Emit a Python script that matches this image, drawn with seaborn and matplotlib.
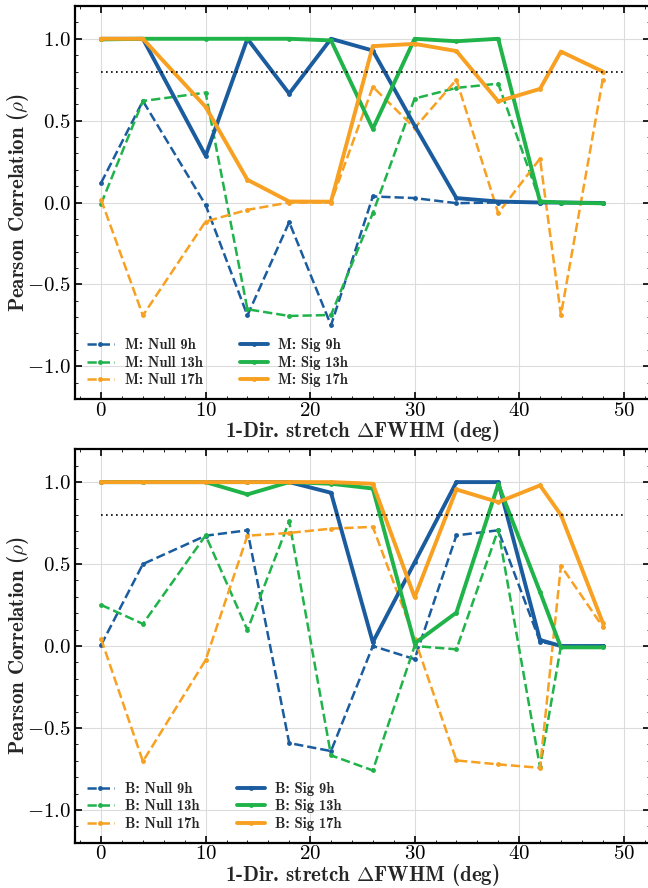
import numpy as np
import pandas as pd
import matplotlib
matplotlib.use("Agg")
import matplotlib.pyplot as plt
import seaborn as sns
from matplotlib.ticker import AutoMinorLocator

# ---------- data ----------
stretch = [0, 4, 10, 14, 18, 22, 26, 30, 34, 38, 42, 44, 48]

# top panel: M
m_null_9 = [0.12, 0.62, -0.015, -0.69, -0.12, -0.75, 0.037, 0.027, -0.004, 0.0, 0.0, 0.0, -0.003]
m_null_13 = [-0.008, 0.62, 0.671, -0.652, -0.693, -0.687, -0.065, 0.635, 0.70, 0.726, 0.01, 0.0, -0.003]
m_null_17 = [0.017, -0.69, -0.116, -0.045, 0.0, 0.0, 0.707, 0.455, 0.75, -0.065, 0.268, -0.687, 0.75]
m_sig_9 = [1.0, 1.0, 0.286, 1.0, 0.665, 1.0, 0.928, 0.47, 0.027, 0.006, 0.0, 0.0, -0.003]
m_sig_13 = [0.996, 1.0, 1.0, 1.0, 1.0, 0.99, 0.45, 1.0, 0.985, 1.0, 0.006, 0.0, -0.005]
m_sig_17 = [1.0, 1.0, 0.584, 0.139, 0.006, 0.005, 0.955, 0.969, 0.925, 0.618, 0.694, 0.922, 0.80]

# bottom panel: B
b_null_9 = [0.006, 0.50, 0.673, 0.706, -0.592, -0.641, 0.0, -0.08, 0.675, 0.706, 0.027, 0.0, 0.0]
b_null_13 = [0.251, 0.135, 0.675, 0.098, 0.761, -0.667, -0.759, 0.0, -0.02, 0.71, -0.739, 0.0, 0.0]
b_null_17 = [0.043, -0.704, -0.086, 0.673, 0.69, 0.716, 0.727, 0.045, -0.698, -0.722, -0.743, 0.49, 0.118]
b_sig_9 = [1.0, 1.0, 1.0, 1.0, 1.0, 0.935, 0.023, 0.51, 1.0, 1.0, 0.037, 0.0, 0.0]
b_sig_13 = [1.0, 1.0, 1.0, 0.925, 1.0, 0.99, 0.961, 0.016, 0.204, 0.986, 0.33, -0.008, -0.008]
b_sig_17 = [1.0, 1.0, 1.0, 1.0, 1.0, 1.0, 0.99, 0.298, 0.955, 0.878, 0.98, 0.80, 0.143]

hours = ["9h", "13h", "17h"]
threshold = 0.8

# ---------- style ----------
sns.set_theme(style="whitegrid")
plt.rcParams.update({
    "font.family": ["cmr10", "DejaVu Serif"],
    "mathtext.fontset": "cm",
    "axes.formatter.use_mathtext": True,
    "axes.edgecolor": "black",
    "axes.linewidth": 1.6,
    "grid.color": "#dcdcdc",
    "grid.linewidth": 0.8,
    "xtick.direction": "in",
    "ytick.direction": "in",
    "xtick.top": True,
    "ytick.right": True,
    "xtick.color": "black",
    "ytick.color": "black",
})
colors = {"9h": "#1a5c9e", "13h": "#1fb34a", "17h": "#f7a021"}

fig = plt.figure(figsize=(6.48, 8.88), dpi=100)
ax_top = fig.add_axes([0.1157, 0.5507, 0.8870, 0.4425])
ax_bot = fig.add_axes([0.1157, 0.0510, 0.8870, 0.4430])

panels = [
    (ax_top, "M", [m_null_9, m_null_13, m_null_17], [m_sig_9, m_sig_13, m_sig_17]),
    (ax_bot, "B", [b_null_9, b_null_13, b_null_17], [b_sig_9, b_sig_13, b_sig_17]),
]

for ax, tag, nulls, sigs in panels:
    for h, vals in zip(hours, nulls):
        sns.lineplot(x=stretch, y=vals, ax=ax, color=colors[h], linestyle="--",
                     linewidth=1.8, marker="o", markersize=3.5, markeredgewidth=0,
                     label=f"{tag}: Null {h}")
    for h, vals in zip(hours, sigs):
        sns.lineplot(x=stretch, y=vals, ax=ax, color=colors[h], linestyle="-",
                     linewidth=2.8, marker="o", markersize=3.5, markeredgewidth=0,
                     label=f"{tag}: Sig {h}")
    ax.hlines(threshold, 0, 50, colors="black", linestyles=(0, (1, 2)), linewidth=1.2)

    ax.set_xlim(-2.5, 52.5)
    ax.set_ylim(-1.2, 1.2)
    ax.set_xticks([0, 10, 20, 30, 40, 50])
    ax.set_yticks([-1.0, -0.5, 0.0, 0.5, 1.0])
    ax.xaxis.set_minor_locator(AutoMinorLocator(5))
    ax.yaxis.set_minor_locator(AutoMinorLocator(5))
    ax.tick_params(which="major", length=5, width=1.2, labelsize=15, pad=3)
    ax.tick_params(axis="x", which="major", pad=2)
    ax.tick_params(which="minor", length=2.5, width=0.6)
    ax.tick_params(axis="x", which="both", top=True, bottom=True)
    ax.tick_params(axis="y", which="both", left=True, right=True)
    ax.grid(True, which="major")
    ax.grid(False, which="minor")

    ax.set_xlabel(r"1-Dir. stretch $\Delta$FWHM (deg)", fontfamily="cmb10", fontsize=15, labelpad=-1)
    ax.set_ylabel(r"Pearson Correlation ($\rho$)", fontfamily="cmb10", fontsize=15, labelpad=-3)

    leg = ax.legend(loc="lower left", ncol=2, frameon=False,
                    prop={"family": "cmb10", "size": 10.5}, handlelength=1.9,
                    handletextpad=0.7, columnspacing=2.6, labelspacing=0.25,
                    borderaxespad=0.4)

fig.savefig("out.png", dpi=100)
